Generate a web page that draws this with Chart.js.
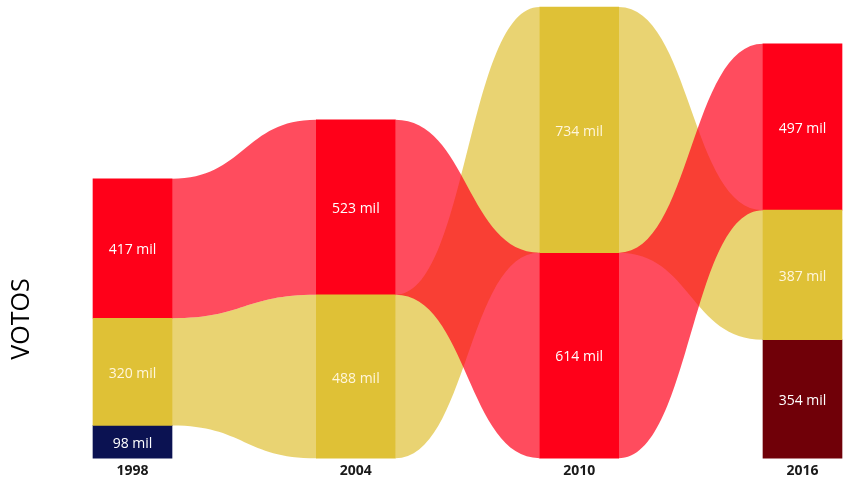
<!DOCTYPE html>
<html>
<head>
<meta charset="utf-8">
<script src="https://cdn.jsdelivr.net/npm/chart.js@4/dist/chart.umd.min.js"></script>
<style>
  html, body { margin: 0; padding: 0; background: #ffffff; }
  #wrap { width: 849px; height: 483px; position: relative; }
</style>
</head>
<body>
<div id="wrap"><canvas id="c"></canvas></div>
<script>
// ---- data (thousands of votes) ----
const years = ['1998', '2004', '2010', '2016'];
const votosAmarillo = [320, 488, 734, 387];
const votosRojo = [417, 523, 614, 497];
const votosAzul = [98, null, null, null];
const votosGranate = [null, null, null, 354];
const axisTitle = 'VOTOS';
const unitSuffix = ' mil';

const seriesValues = [votosAmarillo, votosRojo, votosAzul, votosGranate];
const seriesNames = ['Amarillo', 'Rojo', 'Azul', 'Granate'];
const barColors = ['#DFC136', '#FF0019', '#0B1252', '#700008'];
const ribbonColors = ['rgba(223,193,54,0.7)', 'rgba(255,0,25,0.7)', 'rgba(11,18,82,0.7)', 'rgba(112,0,8,0.7)'];
const labelColors = ['#FFF6DC', '#FFFFFF', '#FFFFFF', '#FFFFFF'];

// build floating [start,end] ranges: in each year the largest series sits on top
const ranges = seriesValues.map(() => years.map(() => null));
years.forEach((_, i) => {
  const present = seriesValues.map((v, s) => ({ s, v: v[i] })).filter(o => o.v != null);
  present.sort((a, b) => a.v - b.v);
  let acc = 0;
  present.forEach(o => { ranges[o.s][i] = [acc, acc + o.v]; acc += o.v; });
});

const ribbonPlugin = {
  id: 'ribbons',
  beforeDatasetsDraw(chart) {
    const ctx = chart.ctx;
    ctx.save();
    chart.data.datasets.forEach((ds, d) => {
      const meta = chart.getDatasetMeta(d);
      for (let i = 0; i < years.length - 1; i++) {
        if (ds.data[i] == null || ds.data[i + 1] == null) continue;
        const a = meta.data[i], b = meta.data[i + 1];
        const ta = Math.min(a.y, a.base), ba = Math.max(a.y, a.base);
        const tb = Math.min(b.y, b.base), bb = Math.max(b.y, b.base);
        const x0 = a.x + a.width / 2, x1 = b.x - b.width / 2;
        const xm = (x0 + x1) / 2;
        ctx.beginPath();
        ctx.moveTo(x0, ta);
        ctx.bezierCurveTo(xm, ta, xm, tb, x1, tb);
        ctx.lineTo(x1, bb);
        ctx.bezierCurveTo(xm, bb, xm, ba, x0, ba);
        ctx.closePath();
        ctx.fillStyle = ribbonColors[d];
        ctx.fill();
      }
    });
    ctx.restore();
  },
  afterDatasetsDraw(chart) {
    const ctx = chart.ctx;
    ctx.save();
    ctx.font = '14px "Open Sans", sans-serif';
    ctx.textAlign = 'center';
    ctx.textBaseline = 'middle';
    chart.data.datasets.forEach((ds, d) => {
      const meta = chart.getDatasetMeta(d);
      ctx.fillStyle = labelColors[d];
      seriesValues[d].forEach((v, i) => {
        if (v == null) return;
        const el = meta.data[i];
        ctx.fillText(v + unitSuffix, el.x, (el.y + el.base) / 2 + 2);
      });
    });
    // y axis title
    ctx.translate(22, 319);
    ctx.rotate(-Math.PI / 2);
    ctx.font = '25px "Open Sans", sans-serif';
    ctx.fillStyle = '#000000';
    ctx.fillText(axisTitle, 0, 0);
    ctx.restore();
  }
};

new Chart(document.getElementById('c'), {
  type: 'bar',
  data: {
    labels: years,
    datasets: seriesValues.map((_, s) => ({
      label: seriesNames[s],
      data: ranges[s],
      backgroundColor: barColors[s],
      borderWidth: 0,
      grouped: false,
      barThickness: 79,
      clip: false
    }))
  },
  options: {
    responsive: true,
    maintainAspectRatio: false,
    animation: false,
    layout: { padding: { left: 132.5, right: 46.5, top: 7, bottom: 0 } },
    plugins: { legend: { display: false }, tooltip: { enabled: false } },
    scales: {
      x: {
        type: 'category',
        offset: false,
        grid: { display: false, drawTicks: false },
        border: { display: false },
        ticks: {
          padding: 4,
          color: '#1a1a1a',
          font: { family: '"Open Sans", sans-serif', size: 14, weight: 'bold' },
          maxRotation: 0,
          autoSkip: false
        }
      },
      y: {
        display: false,
        min: 0,
        max: 1348
      }
    }
  },
  plugins: [ribbonPlugin]
});
</script>
</body>
</html>
